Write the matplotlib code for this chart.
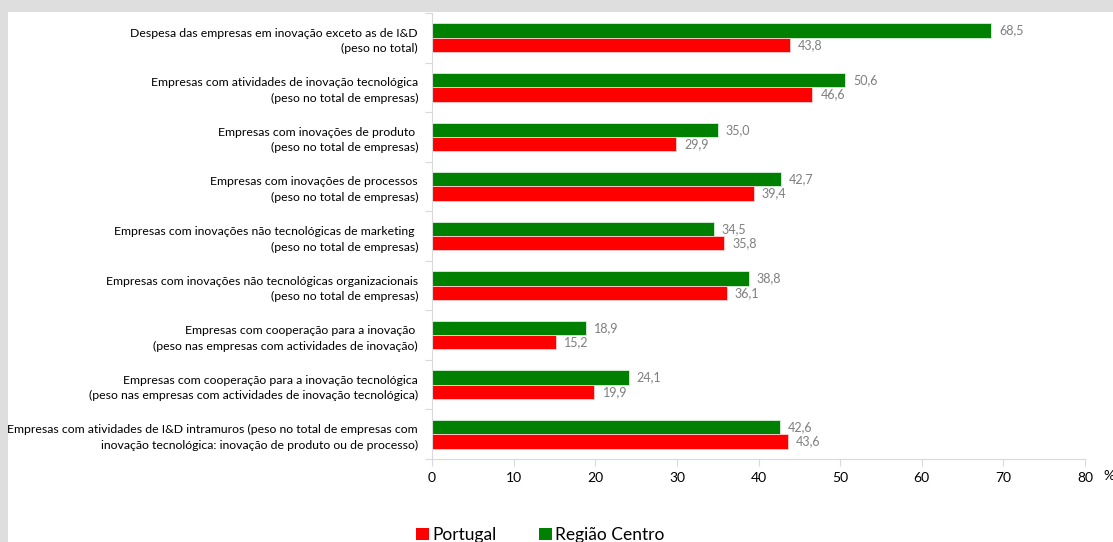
import matplotlib
matplotlib.use("Agg")
import matplotlib.pyplot as plt
from matplotlib.patches import Rectangle, Patch

plt.rcParams['font.family'] = ['Lato', 'DejaVu Sans']

categories = [
    "Despesa das empresas em inovação exceto as de I&D\n(peso no total)",
    "Empresas com atividades de inovação tecnológica\n(peso no total de empresas)",
    "Empresas com inovações de produto \n(peso no total de empresas)",
    "Empresas com inovações de processos\n(peso no total de empresas)",
    "Empresas com inovações não tecnológicas de marketing \n(peso no total de empresas)",
    "Empresas com inovações não tecnológicas organizacionais\n(peso no total de empresas)",
    "Empresas com cooperação para a inovação \n(peso nas empresas com actividades de inovação)",
    "Empresas com cooperação para a inovação tecnológica\n(peso nas empresas com actividades de inovação tecnológica)",
    "Empresas com atividades de I&D intramuros (peso no total de empresas com\ninovação tecnológica: inovação de produto ou de processo)",
]
centro = [68.5, 50.6, 35.0, 42.7, 34.5, 38.8, 18.9, 24.1, 42.6]
portugal = [43.8, 46.6, 29.9, 39.4, 35.8, 36.1, 15.2, 19.9, 43.6]
xticks = [0, 10, 20, 30, 40, 50, 60, 70, 80]

green = "#008000"
red = "#ff0000"
axis_gray = "#d9d9d9"

fig = plt.figure(figsize=(11.13, 5.42), dpi=100)
fig.patch.set_facecolor("#dedede")
# white chart area inside the grey frame
fig.add_artist(Rectangle((8 / 1113, 0), 1, 1 - 12 / 542, transform=fig.transFigure,
                         facecolor="white", edgecolor="none", zorder=0))

ax = fig.add_axes([432 / 1113, 1 - 459 / 542, (1085 - 432) / 1113, (459 - 13) / 542])
ax.set_facecolor("white")

h = 0.29
ypos = list(range(len(categories)))
ax.barh([y - h / 2 for y in ypos], centro, height=h, color=green, edgecolor="#d8f0d8", linewidth=0.6)
ax.barh([y + h / 2 for y in ypos], portugal, height=h, color=red, edgecolor="#ffd0d0", linewidth=0.6)

for y, v in zip(ypos, centro):
    ax.text(v + 1.0, y - h / 2, f"{v:.1f}".replace(".", ","), va="center", ha="left",
            fontsize=9, color="#7f7f7f")
for y, v in zip(ypos, portugal):
    ax.text(v + 1.0, y + h / 2, f"{v:.1f}".replace(".", ","), va="center", ha="left",
            fontsize=9, color="#7f7f7f")

ax.set_ylim(len(categories) - 0.5, -0.5)
ax.set_xlim(0, 80)
ax.set_xticks(xticks)
ax.set_xticklabels([str(t) for t in xticks], fontsize=10)
ax.tick_params(axis="x", length=5, color=axis_gray, pad=4)

# separator ticks between categories, labels on minor ticks at centres
ax.set_yticks([y - 0.5 for y in ypos] + [len(categories) - 0.5])
ax.set_yticklabels([])
ax.tick_params(axis="y", length=5, color=axis_gray)
ax.set_yticks(ypos, minor=True)
ax.set_yticklabels(categories, minor=True, fontsize=8.8, linespacing=1.5, ha="right")
ax.tick_params(axis="y", which="minor", length=0, pad=10)

for side in ["top", "right"]:
    ax.spines[side].set_visible(False)
ax.spines["left"].set_color(axis_gray)
ax.spines["bottom"].set_color(axis_gray)

fig.text(1103 / 1113, 1 - 476 / 542, "%", fontsize=10, va="center", ha="left")

handles = [Patch(facecolor=red, label="Portugal"), Patch(facecolor=green, label="Região Centro")]
fig.legend(handles=handles, loc="center", bbox_to_anchor=(0.4856, 1 - 535 / 542), ncol=2,
           frameon=False, fontsize=12.5, handlelength=0.75, handleheight=0.75,
           handletextpad=0.2, columnspacing=2.4)

fig.savefig("out.png", dpi=100)
